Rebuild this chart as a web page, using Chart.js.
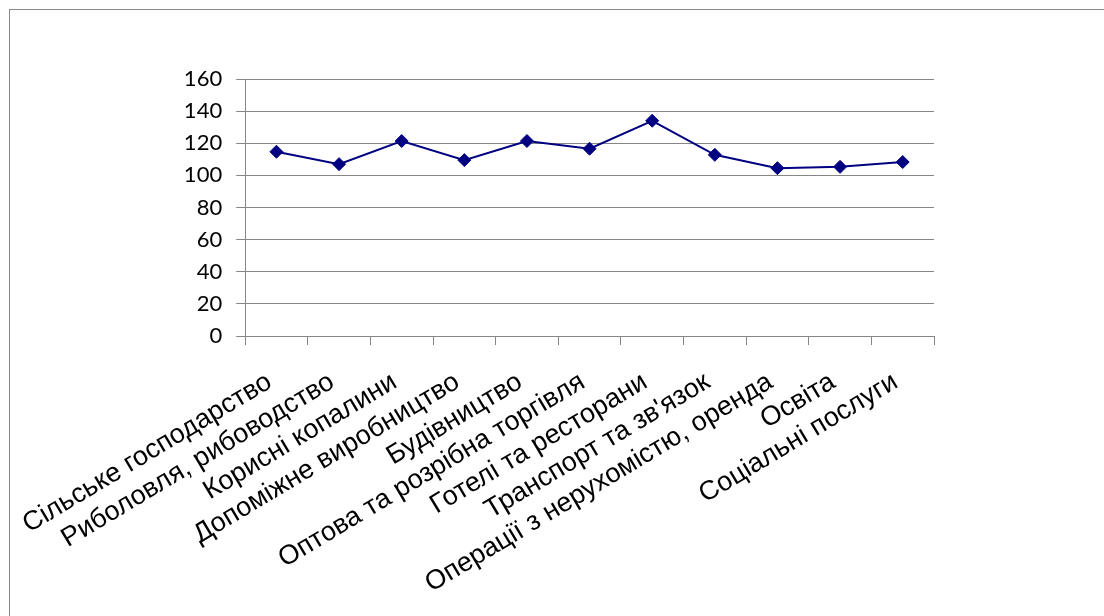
<!DOCTYPE html>
<html>
<head>
<meta charset="utf-8">
<script src="https://cdn.jsdelivr.net/npm/chart.js@4.4.1/dist/chart.umd.min.js"></script>
<style>
  html, body { margin: 0; padding: 0; background: #fff; }
  #wrap { position: relative; width: 1104px; height: 616px; overflow: hidden; }
  #frame { position: absolute; left: 9px; top: 9px; width: 1200px; height: 700px;
           border-top: 1px solid #8a8a8a; border-left: 1px solid #8a8a8a; }
  canvas { position: absolute; left: 0; top: 0; }
</style>
</head>
<body>
<div id="wrap">
  <div id="frame"></div>
  <canvas id="chart" width="1104" height="616"></canvas>
</div>
<script>
var categories = [
  "Сільське господарство",
  "Риболовля, рибоводство",
  "Корисні копалини",
  "Допоміжне виробництво",
  "Будівництво",
  "Оптова та розрібна торгівля",
  "Готелі та ресторани",
  "Транспорт та зв'язок",
  "Операції з нерухомістю, оренда",
  "Освіта",
  "Соціальні послуги"
];
var values = [114.7, 107.0, 121.4, 109.5, 121.4, 116.6, 134.0, 112.8, 104.5, 105.3, 108.3];
var yMin = 0;
var yMax = 160;
var yStep = 20;

var gridColor = "#868686";

var ctx = document.getElementById("chart").getContext("2d");
var myChart = new Chart(ctx, {
  type: "line",
  data: {
    labels: categories,
    datasets: [
      {
        label: "",
        data: values,
        borderColor: "#000080",
        backgroundColor: "#000080",
        borderWidth: 2,
        pointStyle: "rectRot",
        pointRadius: 6.5,
        pointBorderWidth: 1,
        tension: 0,
      },
    ],
  },
  options: {
    responsive: false,
    animation: false,
    layout: { padding: { left: 0, top: 79, right: 170, bottom: 0 } },
    plugins: {
      legend: { display: false },
      tooltip: { enabled: false },
    },
    scales: {
      x: {
        offset: true,
        grid: {
          display: true,
          drawOnChartArea: false,
          drawTicks: true,
          tickLength: 9,
          color: gridColor,
          offset: true,
        },
        border: { display: true, color: gridColor, width: 1 },
        ticks: {
          autoSkip: false,
          maxRotation: 31,
          minRotation: 31,
          padding: 21,
          labelOffset: -7,
          color: "#000",
          font: { family: "'Liberation Sans', Arial, sans-serif", size: 27 },
        },
        afterFit: function (scale) { scale.height = 616 - 336; },
      },
      y: {
        min: yMin,
        max: yMax,
        grid: { color: gridColor, tickLength: 9, drawTicks: true },
        border: { display: true, color: gridColor, width: 1 },
        ticks: {
          stepSize: yStep,
          padding: 14,
          color: "#000",
          font: { family: "Lato, 'Open Sans', sans-serif", size: 22 },
        },
        afterFit: function (scale) { scale.width = 245; },
      },
    },
  },
});
</script>
</body>
</html>
